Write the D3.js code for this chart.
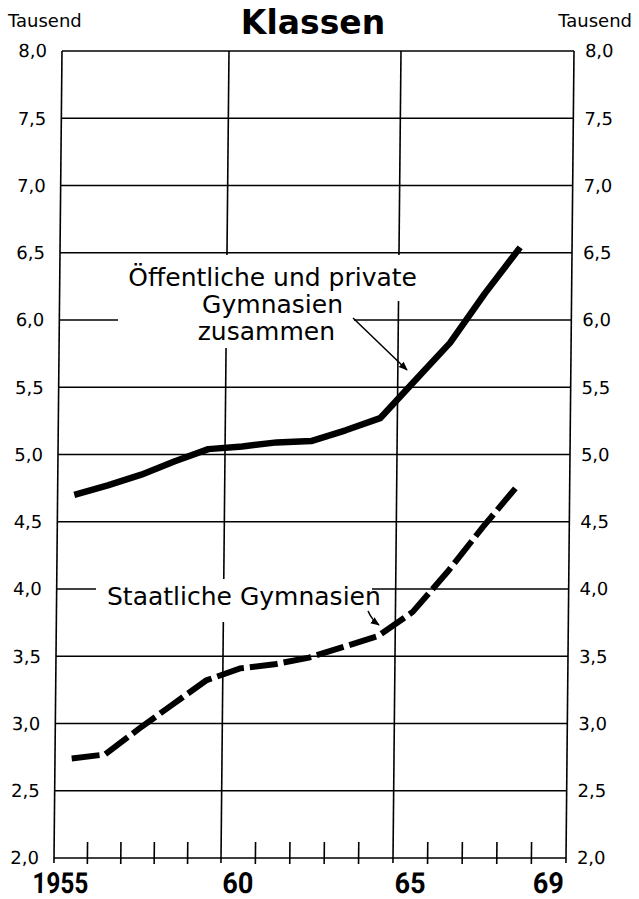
<!DOCTYPE html>
<html><head><meta charset="utf-8">
<script src="https://cdn.jsdelivr.net/npm/d3@7"></script>
<style>html,body{margin:0;padding:0;background:#fff}svg{display:block}</style>
</head><body>
<svg id="chart" width="639" height="899"></svg>
<script>
// ---- data ----
const years = [1955,1956,1957,1958,1959,1960,1961,1962,1963,1964,1965,1966,1967,1968];
const oeffentlichUndPrivat = [4.70,4.77,4.85,4.95,5.04,5.06,5.09,5.10,5.18,5.27,5.55,5.83,6.20,6.54];
const staatlich = [2.74,2.77,2.96,3.14,3.32,3.41,3.44,3.49,3.57,3.65,3.83,4.13,4.46,4.77];
const yTickValues = [2,2.5,3,3.5,4,4.5,5,5.5,6,6.5,7,7.5,8];
const yTickLabels = ["2,0","2,5","3,0","3,5","4,0","4,5","5,0","5,5","6,0","6,5","7,0","7,5","8,0"];
const xGridYears = [1960,1965];
const xLabelYears = [1955,1960,1965,1969];
const xLabels = ["1955","60","65","69"];
const minorTickYears = [1956,1957,1958,1959,1961,1962,1963,1964,1966,1967,1968,1969];
const chartTitle = "Klassen";
const unitLabel = "Tausend";
const labelAll = ["Öffentliche und private","Gymnasien","zusammen"];
const labelStaat = "Staatliche Gymnasien";

// ---- layout ----
const svg = d3.select("#chart");
const pL = 54, pR = 566, pT = 51, pB = 858;
const x = d3.scaleLinear().domain([1955,1960,1965,1970]).range([pL,221,393,pR]);
const y = d3.scaleLinear().domain([2,8]).range([pB,pT]);
const shear = -8/807; // slight shear of the scanned original
const skew = `translate(${-shear*pB},0) skewX(${Math.atan(shear)*180/Math.PI})`;
const sans = "'DejaVu Sans', sans-serif";
const numFont = "Roboto, 'Liberation Sans', sans-serif";

const g = svg.append("g").attr("transform", skew);

// horizontal grid
g.selectAll("line.h").data(yTickValues).join("line")
  .attr("x1", pL).attr("x2", pR)
  .attr("y1", d => y(d)).attr("y2", d => y(d))
  .attr("stroke", "#000").attr("stroke-width", 1.6);
// vertical grid + borders
g.selectAll("line.v").data([1955, ...xGridYears, 1970]).join("line")
  .attr("x1", d => x(d)).attr("x2", d => x(d))
  .attr("y1", pT).attr("y2", pB + 5)
  .attr("stroke", "#000").attr("stroke-width", 1.6);
// minor ticks
g.selectAll("line.m").data(minorTickYears).join("line")
  .attr("x1", d => x(d)).attr("x2", d => x(d))
  .attr("y1", pB - 16).attr("y2", pB + 6)
  .attr("stroke", "#000").attr("stroke-width", 1.6);
// y labels
g.selectAll("text.yl").data(yTickValues).join("text")
  .attr("x", pL - 15).attr("y", d => y(d)).attr("dy", "0.36em")
  .attr("text-anchor", "end").attr("font-family", sans).attr("font-size", 18)
  .text((d,i) => yTickLabels[i]);
g.selectAll("text.yr").data(yTickValues).join("text")
  .attr("x", pR + 11).attr("y", d => y(d)).attr("dy", "0.36em")
  .attr("text-anchor", "start").attr("font-family", sans).attr("font-size", 18)
  .text((d,i) => yTickLabels[i]);
// x labels (centered in year interval)
g.selectAll("text.xl").data(xLabelYears).join("text")
  .attr("x", (d,i) => i === 0 ? (x(d) + x(d+1))/2 - 10 : (x(d) + x(d+1))/2)
  .attr("y", 893)
  .attr("text-anchor", "middle").attr("font-family", numFont).attr("font-weight", "bold").attr("font-size", 29)
  .attr("textLength", (d,i) => i === 0 ? 56 : 31).attr("lengthAdjust", "spacingAndGlyphs")
  .text((d,i) => xLabels[i]);

// masks behind annotation texts
const masks = [[118,255,307,46],[118,300,236,48],[96,579,276,43]];
svg.selectAll("rect.mask").data(masks).join("rect")
  .attr("x", d => d[0]).attr("y", d => d[1]).attr("width", d => d[2]).attr("height", d => d[3])
  .attr("fill", "#fff");

// title and units
svg.append("text").attr("x", 313).attr("y", 34).attr("text-anchor", "middle")
  .attr("font-family", sans).attr("font-weight", "bold").attr("font-size", 33)
  .text(chartTitle);
svg.append("text").attr("x", 8).attr("y", 27).attr("font-family", sans).attr("font-size", 18).text(unitLabel);
svg.append("text").attr("x", 632).attr("y", 27).attr("text-anchor", "end").attr("font-family", sans).attr("font-size", 18).text(unitLabel);

// annotations
const annX = [417, 343, 335], annY = [286, 313, 340];
svg.selectAll("text.ann").data(labelAll).join("text")
  .attr("x", (d,i) => annX[i]).attr("y", (d,i) => annY[i]).attr("text-anchor", "end")
  .attr("font-family", sans).attr("font-size", 25).text(d => d);
svg.append("text").attr("x", 107).attr("y", 605).attr("font-family", sans).attr("font-size", 25).text(labelStaat);

const defs = svg.append("defs");
defs.append("marker").attr("id", "ah").attr("viewBox", "0 0 10 10").attr("refX", 9).attr("refY", 5)
  .attr("markerWidth", 9).attr("markerHeight", 9).attr("orient", "auto").attr("markerUnits", "userSpaceOnUse")
  .append("path").attr("d", "M0,1 L10,5 L0,9 Z").attr("fill", "#000");
svg.append("path").attr("d", "M353,318 L407,370").attr("stroke", "#000").attr("stroke-width", 1.5)
  .attr("fill", "none").attr("marker-end", "url(#ah)");
svg.append("path").attr("d", "M368,611 Q372,620 379,625").attr("stroke", "#000").attr("stroke-width", 1.5)
  .attr("fill", "none").attr("marker-end", "url(#ah)");

// data lines
const gd = svg.append("g").attr("transform", skew);
const line = d3.line().x((d,i) => x(years[i] + 0.5)).y(d => y(d));
gd.append("path").datum(oeffentlichUndPrivat).attr("d", line)
  .attr("fill", "none").attr("stroke", "#000").attr("stroke-width", 6.5).attr("stroke-linejoin", "round");
gd.append("path").datum(staatlich).attr("d", line)
  .attr("fill", "none").attr("stroke", "#000").attr("stroke-width", 6).attr("stroke-dasharray", "28,6");
</script>
</body></html>
